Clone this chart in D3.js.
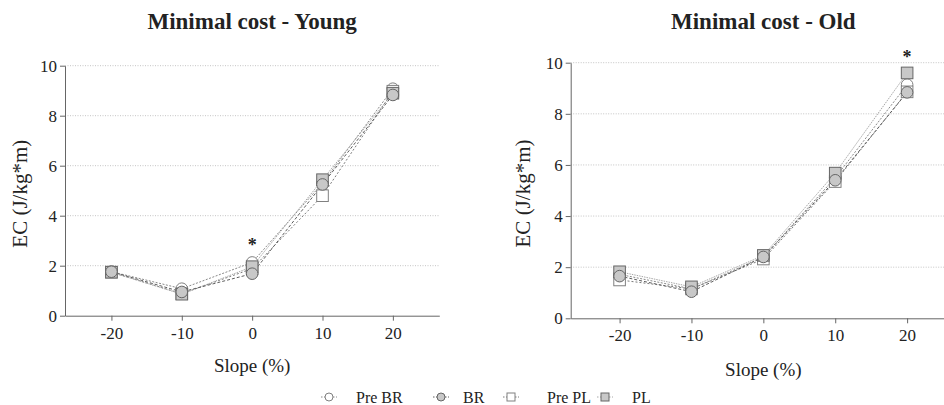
<!DOCTYPE html>
<html>
<head>
<meta charset="utf-8" />
<title>Minimal cost</title>
<script src="https://cdn.jsdelivr.net/npm/d3@7"></script>
<style>
  body { margin: 0; background: #fff; }
  svg text { font-family: "Liberation Serif", "DejaVu Serif", serif; fill: #222; }
</style>
</head>
<body>
<div id="chart"></div>
<script>
  // 資料
  const slopes = [-20, -10, 0, 10, 20];
  const seriesNames = ["Pre BR", "BR", "Pre PL", "PL"];
  const yTicks = [0, 2, 4, 6, 8, 10];

  const youngPreBR = [1.76, 1.08, 2.13, 5.30, 9.08];
  const youngBR    = [1.76, 0.95, 1.68, 5.25, 8.83];
  const youngPrePL = [1.74, 0.88, 1.88, 4.80, 8.98];
  const youngPL    = [1.74, 0.86, 1.96, 5.44, 8.90];

  const oldPreBR = [1.72, 1.15, 2.40, 5.50, 9.14];
  const oldBR    = [1.65, 1.04, 2.40, 5.40, 8.84];
  const oldPrePL = [1.50, 1.15, 2.32, 5.35, 8.86];
  const oldPL    = [1.82, 1.23, 2.46, 5.68, 9.60];

  const panels = [
    { title: "Minimal cost - Young", series: [youngPreBR, youngBR, youngPrePL, youngPL], star: [0, 2.9],
      x0: 65, x1: 439.3, xDom: 26.6, yTop: 65.7, yBot: 315.7, titleY: 29, labY: 372, ylabX: 20 },
    { title: "Minimal cost - Old", series: [oldPreBR, oldBR, oldPrePL, oldPL], star: [20, 10.3],
      x0: 570.7, x1: 956, xDom: 26.8, yTop: 62.7, yBot: 318.3, titleY: 29, labY: 376, ylabX: 523 }
  ];

  // 樣式：空心/實心、圓形/方形
  const styles = [
    { shape: "circle", fill: "#ffffff", stroke: "#808080", dash: "2,1.5", line: "#8a8a8a" },
    { shape: "circle", fill: "#c8c8c8", stroke: "#666666", dash: "3,2",   line: "#5e5e5e" },
    { shape: "square", fill: "#ffffff", stroke: "#808080", dash: "2,2",   line: "#7a7a7a" },
    { shape: "square", fill: "#c8c8c8", stroke: "#666666", dash: "1.5,1", line: "#a8a8a8" }
  ];
  const drawOrder = [0, 2, 3, 1];
  const serif = '"Liberation Serif", "DejaVu Serif", serif';

  const width = 944, height = 405;
  const svg = d3.select("#chart").append("svg")
    .attr("width", width).attr("height", height)
    .attr("viewBox", [0, 0, width, height]);

  function marker(g, st, cx, cy, r) {
    if (st.shape === "circle") {
      g.append("circle").attr("cx", cx).attr("cy", cy).attr("r", r)
        .attr("fill", st.fill).attr("stroke", st.stroke).attr("stroke-width", 1);
    } else {
      g.append("rect").attr("x", cx - r).attr("y", cy - r).attr("width", 2 * r).attr("height", 2 * r)
        .attr("fill", st.fill).attr("stroke", st.stroke).attr("stroke-width", 1);
    }
  }

  panels.forEach(p => {
    const x = d3.scaleLinear().domain([-p.xDom, p.xDom]).range([p.x0, p.x1]);
    const y = d3.scaleLinear().domain([0, 10]).range([p.yBot, p.yTop]);
    const g = svg.append("g");

    // 格線
    g.append("g").selectAll("line").data(yTicks.filter(d => d > 0)).join("line")
      .attr("x1", p.x0).attr("x2", p.x1)
      .attr("y1", d => y(d)).attr("y2", d => y(d))
      .attr("stroke", "#c4c4c4").attr("stroke-dasharray", "1,1.5");

    // Y 軸
    g.append("g").attr("transform", `translate(${p.x0},0)`)
      .call(d3.axisLeft(y).tickValues(yTicks).tickSize(5).tickSizeOuter(0).tickPadding(3))
      .attr("font-family", serif)
      .call(a => a.select(".domain").attr("stroke", "#666"))
      .call(a => a.selectAll(".tick line").attr("stroke", "#666"))
      .call(a => a.selectAll("text").style("font-size", "17px").style("font-family", serif).attr("fill", "#222"));

    // X 軸（用一般連字號）
    g.append("g").attr("transform", `translate(0,${p.yBot})`)
      .call(d3.axisBottom(x).tickValues(slopes).tickFormat(d => String(d)).tickSize(5).tickSizeOuter(0).tickPadding(6))
      .attr("font-family", serif)
      .call(a => a.select(".domain").attr("stroke", "#666"))
      .call(a => a.selectAll(".tick line").attr("stroke", "#666"))
      .call(a => a.selectAll("text").style("font-size", "17px").style("font-family", serif).attr("fill", "#222"));

    // 標題與軸標籤
    g.append("text").attr("x", x(0)).attr("y", p.titleY).attr("text-anchor", "middle")
      .style("font-size", "23px").style("font-weight", "bold").text(p.title);
    g.append("text").attr("x", x(0)).attr("y", p.labY).attr("text-anchor", "middle")
      .style("font-size", "19px").text("Slope (%)");
    g.append("text").attr("transform", `translate(${p.ylabX},${(p.yTop + p.yBot) / 2 + 3}) rotate(-90)`)
      .attr("text-anchor", "middle").attr("dy", "0.35em")
      .style("font-size", "21px").text("EC (J/kg*m)");

    // 線條
    const line = d3.line().x((d, i) => x(slopes[i])).y(d => y(d));
    drawOrder.forEach(k => {
      g.append("path").attr("d", line(p.series[k])).attr("fill", "none")
        .attr("stroke", styles[k].line).attr("stroke-width", 1)
        .attr("stroke-dasharray", styles[k].dash);
    });
    // 標記
    drawOrder.forEach(k => {
      p.series[k].forEach((v, i) => marker(g, styles[k], x(slopes[i]), y(v), 5.8));
    });

    // 星號
    g.append("text").attr("x", x(p.star[0])).attr("y", y(p.star[1]) + 8).attr("text-anchor", "middle")
      .style("font-size", "18px").style("font-weight", "bold").attr("fill", "#111").text("*");
  });

  // 圖例
  const legendX = [329, 441, 511, 605];
  const legendTextX = [356, 463, 547, 632];
  const ly = 397;
  const lg = svg.append("g");
  seriesNames.forEach((name, k) => {
    lg.append("line").attr("x1", legendX[k] - 8).attr("x2", legendX[k] + 8)
      .attr("y1", ly).attr("y2", ly).attr("stroke", styles[k].line).attr("stroke-dasharray", "1.5,1.5");
    marker(lg, styles[k], legendX[k], ly, 4);
    lg.append("text").attr("x", legendTextX[k]).attr("y", ly).attr("dy", "0.35em")
      .style("font-size", "16px").text(name);
  });
</script>
</body>
</html>
